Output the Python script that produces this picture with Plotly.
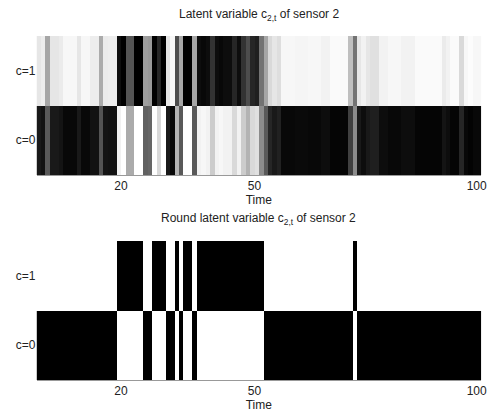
import plotly.graph_objects as go

# time steps (cell edges 1..101, cells t..t+1)
time_edges = list(range(1, 102))
row_labels = ["c=0", "c=1"]
x_tickvals = [20, 50, 100]

# intensity of the c=1 row (1 = white, 0 = black), t = 1..100
p_c1 = [
    0.90, 0.93, 0.65, 0.90, 0.90, 0.92, 0.97, 0.97, 0.97, 0.90,
    0.97, 0.97, 0.93, 0.93, 0.67, 0.92, 0.93, 0.93, 0.05, 0.00,
    0.33, 0.33, 0.00, 0.00, 0.62, 0.60, 0.00, 0.15, 0.00, 0.90,
    0.97, 0.30, 0.65, 0.00, 0.00, 0.65, 0.05, 0.03, 0.05, 0.20,
    0.05, 0.03, 0.05, 0.05, 0.15, 0.05, 0.20, 0.30, 0.15, 0.12,
    0.45, 0.65, 0.85, 0.90, 0.87, 0.97, 0.97, 0.97, 0.96, 0.96,
    0.96, 0.97, 0.97, 0.97, 0.95, 0.95, 0.98, 0.98, 0.98, 0.98,
    0.75, 0.45, 0.90, 0.95, 0.90, 0.88, 0.88, 0.95, 0.95, 0.97,
    0.97, 0.97, 0.95, 0.95, 0.95, 0.98, 0.98, 0.98, 0.98, 0.98,
    0.98, 0.92, 0.95, 0.98, 0.98, 0.85, 0.97, 0.99, 0.97, 0.97,
]
p_c0 = [1 - v for v in p_c1]
r_c1 = [1.0 if v >= 0.5 else 0.0 for v in p_c1]
r_c0 = [1 - v for v in r_c1]

W, H = 496, 415
x0, x1 = 37, 487
top_y = (36, 175)
bot_y = (241, 380)

def ydom(a, b):
    return [1 - b / H, 1 - a / H]

gray = [[0, "black"], [1, "white"]]
fig = go.Figure()
fig.add_trace(go.Heatmap(z=[p_c0, p_c1], x=time_edges, y=[0, 1], colorscale=gray,
                         zmin=0, zmax=1, showscale=False, xaxis="x", yaxis="y"))
fig.add_trace(go.Heatmap(z=[r_c0, r_c1], x=time_edges, y=[0, 1], colorscale=gray,
                         zmin=0, zmax=1, showscale=False, xaxis="x2", yaxis="y2"))

font = dict(family="Liberation Sans, Arial, sans-serif", size=12, color="#222")
xax = dict(range=[1, 101], tickvals=x_tickvals, ticks="", showgrid=False, zeroline=False,
           showline=True, linecolor="#999", linewidth=1, tickfont=font,
           title=dict(text="Time", font=font, standoff=0))
yax = dict(range=[-0.5, 1.5], tickvals=[0, 1], ticktext=row_labels, ticks="", showgrid=False,
           zeroline=False, showline=False, tickfont=font)

fig.update_layout(
    width=W, height=H, margin=dict(l=0, r=0, t=0, b=0),
    paper_bgcolor="white", plot_bgcolor="white", font=font,
    xaxis=dict(domain=[x0 / W, x1 / W], anchor="y", **xax),
    yaxis=dict(domain=ydom(*top_y), anchor="x", **yax),
    xaxis2=dict(domain=[x0 / W, x1 / W], anchor="y2", **xax),
    yaxis2=dict(domain=ydom(*bot_y), anchor="x2", **yax),
    annotations=[
        dict(text="Latent variable c<sub>2,t</sub> of sensor 2", x=(x0 + x1) / 2 / W, y=1 - 15 / H,
             xref="paper", yref="paper", showarrow=False, font=font, xanchor="center", yanchor="middle"),
        dict(text="Round latent variable c<sub>2,t</sub> of sensor 2", x=(x0 + x1) / 2 / W, y=1 - 219 / H,
             xref="paper", yref="paper", showarrow=False, font=font, xanchor="center", yanchor="middle"),
    ],
)
fig.write_html("out.html")
